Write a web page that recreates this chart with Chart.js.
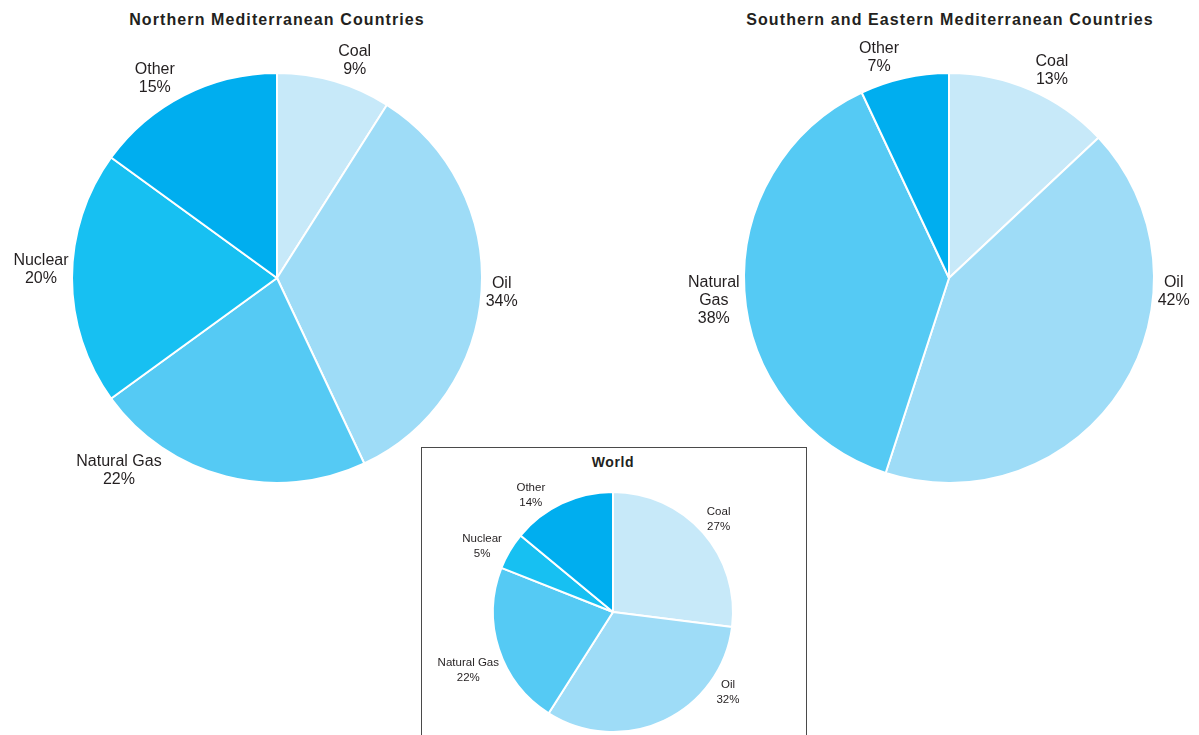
<!DOCTYPE html>
<html>
<head>
<meta charset="utf-8">
<script src="https://cdn.jsdelivr.net/npm/chart.js@4/dist/chart.umd.min.js"></script>
<style>
  body { margin: 0; background: #fff; width: 1199px; height: 735px; overflow: hidden; position: relative; font-family: "Liberation Sans", Arial, sans-serif; color: #231f20; }
  canvas { position: absolute; }
  .title { position: absolute; font-weight: bold; font-size: 16px; letter-spacing: 1.1px; text-align: center; white-space: nowrap; transform: translate(-50%, -50%); }
  #worldbox { position: absolute; left: 421px; top: 447px; width: 384px; height: 300px; border: 1.5px solid #4a4a4a; }
</style>
</head>
<body>
<div class="title" style="left:277px;top:20px">Northern Mediterranean Countries</div>
<div class="title" style="left:950px;top:20px">Southern and Eastern Mediterranean Countries</div>
<div id="worldbox"></div>
<div class="title" style="left:613px;top:462px;font-size:14px;letter-spacing:0.6px">World</div>
<canvas id="north" width="560" height="520" style="left:0;top:0"></canvas>
<canvas id="south" width="559" height="520" style="left:640px;top:0"></canvas>
<canvas id="world" width="384" height="286" style="left:422px;top:449px"></canvas>
<script>
// data
const northLabels = ["Coal", "Oil", "Natural Gas", "Nuclear", "Other"];
const northValues = [9, 34, 22, 20, 15];
const southLabels = ["Coal", "Oil", ["Natural", "Gas"], "Other"];
const southValues = [13, 42, 38, 7];
const worldLabels = ["Coal", "Oil", "Natural Gas", "Nuclear", "Other"];
const worldValues = [27, 32, 22, 5, 14];

const colors = {
  "Coal": "#c7e9f9",
  "Oil": "#9edcf7",
  "Natural Gas": "#55caf4",
  "Nuclear": "#17c0f2",
  "Other": "#00aeef"
};
function colorFor(l) { return colors[Array.isArray(l) ? l.join(" ") : l]; }

//labels outside the pie
const outLabels = {
  id: "outLabels",
  afterDatasetsDraw(chart, args, opts) {
    const ctx = chart.ctx;
    const meta = chart.getDatasetMeta(0);
    const vals = chart.data.datasets[0].data;
    ctx.save();
    ctx.font = opts.size + "px 'Liberation Sans', Arial, sans-serif";
    ctx.fillStyle = "#231f20";
    ctx.textAlign = "center";
    ctx.textBaseline = "middle";
    meta.data.forEach(function (arc, i) {
      const shift = (opts.shift && opts.shift[i]) || 0;
      const mid = (arc.startAngle + arc.endAngle) / 2 + shift * Math.PI / 180;
      const lines = [].concat(chart.data.labels[i], vals[i] + "%");
      const w = Math.max.apply(null, lines.map(l => ctx.measureText(l).width));
      const h = lines.length * opts.lineHeight;
      const c = Math.cos(mid), s = Math.sin(mid);
      const r = arc.outerRadius + opts.pad + Math.abs(c) * w / 2 + Math.abs(s) * h / 2;
      const x = arc.x + c * r, y = arc.y + s * r;
      lines.forEach(function (l, j) {
        ctx.fillText(l, x, y - h / 2 + opts.lineHeight * (j + 0.5));
      });
    });
    ctx.restore();
  }
};

function makePie(id, labels, values, radius, padding, labelOpts) {
  return new Chart(document.getElementById(id), {
    type: "pie",
    data: {
      labels: labels,
      datasets: [{
        data: values,
        backgroundColor: labels.map(colorFor),
        borderColor: "#ffffff",
        borderWidth: 2,
        hoverOffset: 0
      }]
    },
    options: {
      responsive: false,
      animation: false,
      radius: radius,
      layout: { padding: padding },
      plugins: {
        legend: { display: false },
        tooltip: { enabled: false },
        outLabels: labelOpts
      }
    },
    plugins: [outLabels]
  });
}

makePie("north", northLabels, northValues, 205,
  { left: 72, right: 78, top: 73, bottom: 37 },
  { size: 16, lineHeight: 18, pad: 3, shift: [3.5, 0, 25, 2, -4.5] });
makePie("south", southLabels, southValues, 205,
  { left: 104, right: 45, top: 73, bottom: 37 },
  { size: 16, lineHeight: 18, pad: 3, shift: [3, -29, -2, -5] });
makePie("world", worldLabels, worldValues, 120,
  { left: 71, right: 73, top: 43, bottom: 3 },
  { size: 11.5, lineHeight: 15, pad: 2, shift: [0, -30, -4, -4, -10] });
</script>
</body>
</html>
